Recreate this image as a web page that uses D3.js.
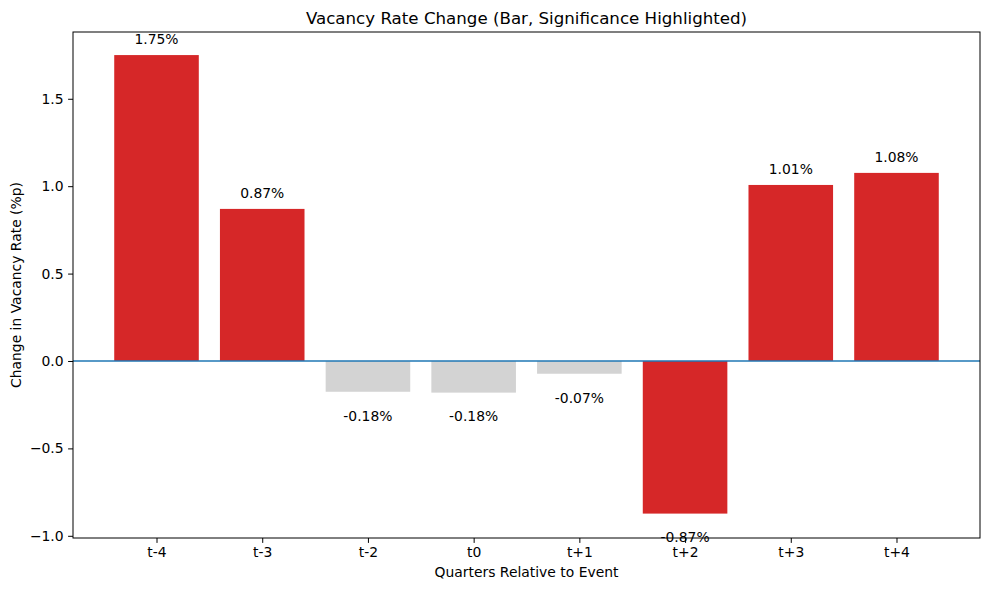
<!DOCTYPE html>
<html><head><meta charset="utf-8">
<script src="https://cdn.jsdelivr.net/npm/d3@7"></script>
<style>body{margin:0;background:#fff}text{font-family:"DejaVu Sans",sans-serif}</style>
</head><body>
<svg id="c" width="989" height="590"></svg>
<script>
const categories = ["t-4","t-3","t-2","t0","t+1","t+2","t+3","t+4"];
const values = [1.75, 0.87, -0.176, -0.181, -0.073, -0.873, 1.007, 1.076];
const significant = [true, true, false, false, false, true, true, true];
const yTicks = [-1.0, -0.5, 0.0, 0.5, 1.0, 1.5];

const svg = d3.select("#c");
const L = 73, R = 980, T = 32, B = 538;
const FS = "13.9px";
const x = d3.scaleLinear().domain([-0.79, 7.79]).range([L, R]);
const y = d3.scaleLinear().domain([-1.0126, 1.882]).range([B, T]);
const bw = x(0.8) - x(0);

svg.append("g").selectAll("rect").data(values).join("rect")
  .attr("x", (d,i) => x(i) - bw/2)
  .attr("width", bw)
  .attr("y", d => y(Math.max(0, d)))
  .attr("height", d => Math.abs(y(d) - y(0)))
  .attr("fill", (d,i) => significant[i] ? "#d62728" : "#d3d3d3");

svg.append("line").attr("x1", L).attr("x2", R).attr("y1", y(0)).attr("y2", y(0))
  .attr("stroke", "#1f77b4").attr("stroke-width", 1.6);

svg.append("g").selectAll("text").data(values).join("text")
  .attr("x", (d,i) => x(i))
  .attr("y", d => d >= 0 ? y(d) - 16 : y(d) + 24)
  .attr("dy", "0.35em")
  .attr("text-anchor", "middle")
  .attr("font-size", FS)
  .text(d => d.toFixed(2) + "%");

const fmt = d => d3.format(".1f")(d).replace("-", "\u2212");
const ya = svg.append("g").attr("transform", `translate(${L},0)`)
  .call(d3.axisLeft(y).tickValues(yTicks).tickFormat(fmt).tickSize(4.9).tickPadding(4.5));
const xa = svg.append("g").attr("transform", `translate(0,${B})`)
  .call(d3.axisBottom(x).tickValues(d3.range(categories.length)).tickFormat(i => categories[i]).tickSize(4.9).tickPadding(4.5));
[ya, xa].forEach(a => {
  a.select(".domain").remove();
  a.selectAll("text").attr("font-size", FS).attr("fill", "#000").attr("font-family", "DejaVu Sans");
  a.selectAll("line").attr("stroke", "#000").attr("stroke-width", 1);
});

svg.append("rect").attr("x", L).attr("y", T).attr("width", R - L).attr("height", B - T)
  .attr("fill", "none").attr("stroke", "#000").attr("stroke-width", 1);

svg.append("text").attr("x", (L+R)/2).attr("y", 18).attr("dy", "0.35em").attr("text-anchor", "middle")
  .attr("font-size", "16.67px").text("Vacancy Rate Change (Bar, Significance Highlighted)");
svg.append("text").attr("x", (L+R)/2).attr("y", 572).attr("dy", "0.35em").attr("text-anchor", "middle")
  .attr("font-size", FS).text("Quarters Relative to Event");
svg.append("text").attr("transform", `translate(16,${(T+B)/2}) rotate(-90)`).attr("dy", "0.35em")
  .attr("text-anchor", "middle").attr("font-size", FS).text("Change in Vacancy Rate (%p)");
</script>
</body></html>
